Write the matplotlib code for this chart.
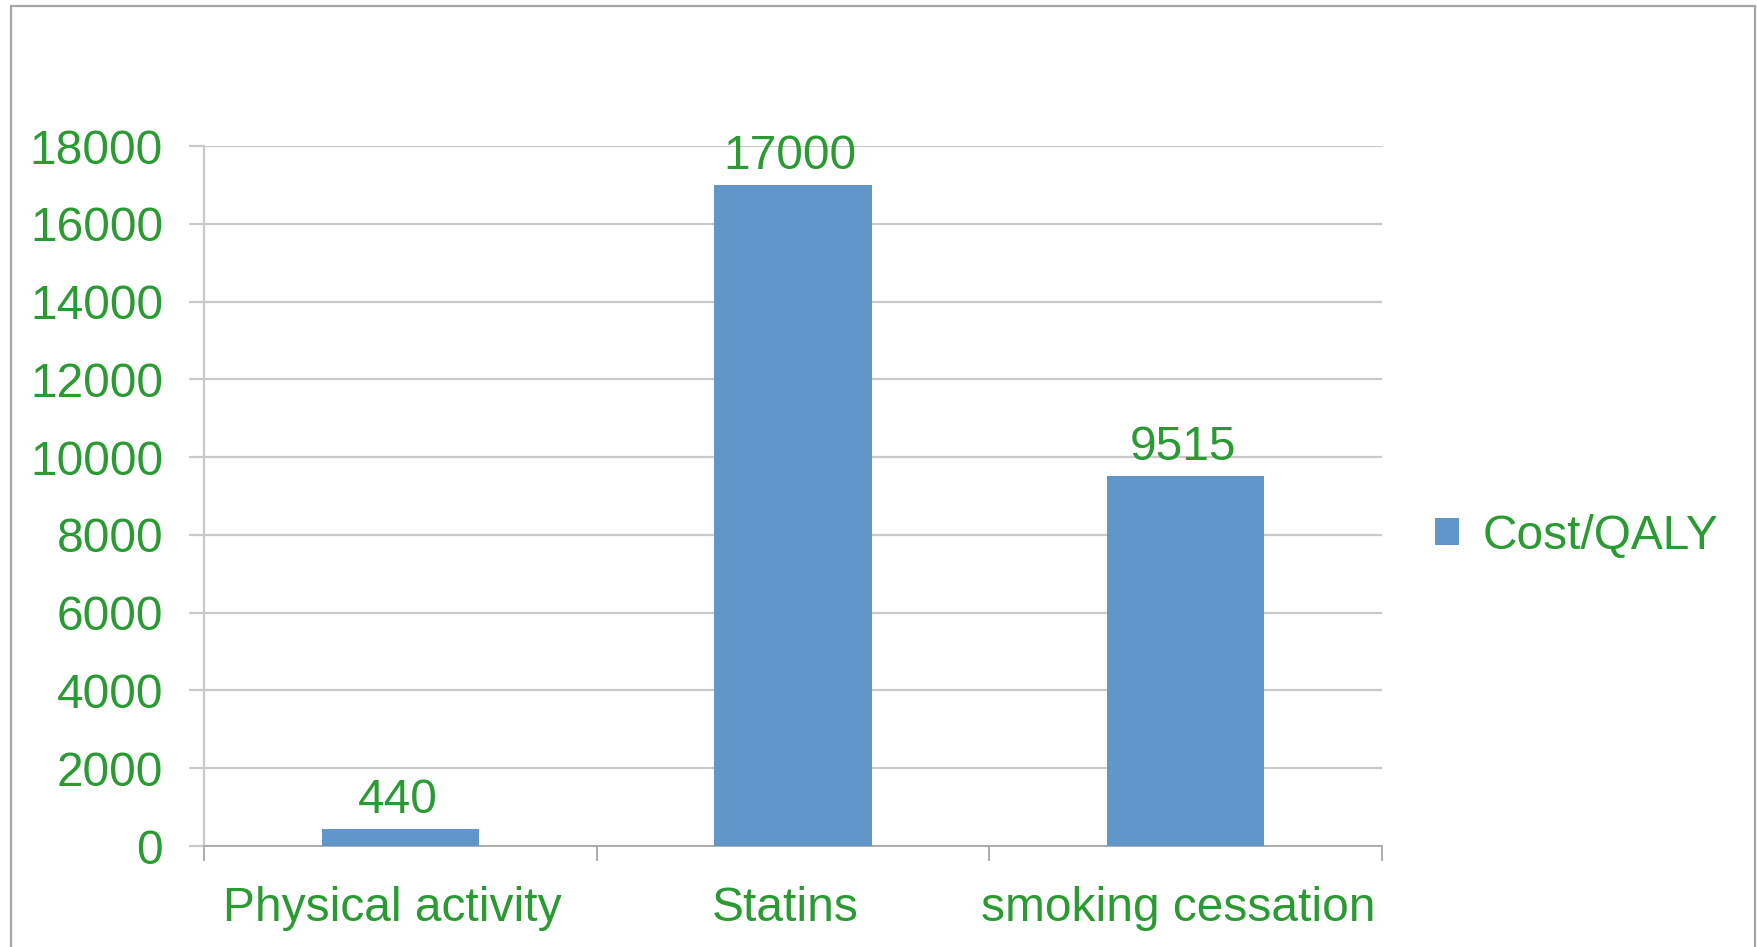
import matplotlib
matplotlib.use("Agg")
import matplotlib.pyplot as plt
from matplotlib.patches import Rectangle
from matplotlib.ticker import FixedLocator, NullFormatter

categories = ["Physical activity", "Statins", "smoking cessation"]
values = [440, 17000, 9515]
series_name = "Cost/QALY"
yticks = [0, 2000, 4000, 6000, 8000, 10000, 12000, 14000, 16000, 18000]

GREEN = "#2A9A32"
BAR = "#6196C9"
GRID = "#C9C9C9"
FS = 34.5

plt.rcParams["font.family"] = ["Liberation Sans", "DejaVu Sans"]

W, H, DPI = 1758, 947, 100
fig = plt.figure(figsize=(W / DPI, H / DPI), dpi=DPI)
fig.patch.set_facecolor("white")

# outer frame
fig.add_artist(Rectangle((11 / W, -0.05), (1755 - 11) / W, 1.05 - 6 / H,
                         transform=fig.transFigure, fill=False,
                         edgecolor="#A6A6A6", linewidth=1.6))

ax = fig.add_axes([204 / W, 101 / H, (1382 - 204) / W, (846 - 146) / H])
x = list(range(len(categories)))
bars = ax.bar(x, values, width=0.4, color=BAR, label=series_name, zorder=3)

ax.set_xlim(-0.5, len(categories) - 0.5)
ax.set_ylim(0, 18000)
ax.set_yticks(yticks)
ax.set_yticklabels([str(t) for t in yticks])
ax.yaxis.grid(True, color=GRID, linewidth=1.6, zorder=0)
ax.set_axisbelow(True)

# major x ticks at category boundaries (no labels), minor at centers (labels)
ax.xaxis.set_major_locator(FixedLocator([i - 0.5 for i in range(len(categories) + 1)]))
ax.xaxis.set_major_formatter(NullFormatter())
ax.xaxis.set_minor_locator(FixedLocator([i - 0.02 for i in x]))
ax.set_xticklabels(categories, minor=True)
ax.tick_params(axis="x", which="major", length=10.5, width=1.3, color="#A8A8A8", direction="out")
ax.tick_params(axis="x", which="minor", length=0, pad=29, labelsize=FS, labelcolor=GREEN)
ax.tick_params(axis="y", length=10.5, width=1.6, color=GRID, pad=19, labelsize=FS, labelcolor=GREEN)

for s in ["top", "right"]:
    ax.spines[s].set_visible(False)
ax.spines["left"].set_color(GRID)
ax.spines["left"].set_linewidth(1.6)
ax.spines["bottom"].set_color("#A8A8A8")
ax.spines["bottom"].set_linewidth(1.3)

for b, v in zip(bars, values):
    ax.annotate(str(v), (b.get_x() + b.get_width() / 2, v), xytext=(-2, 4),
                textcoords="offset points", ha="center", va="bottom",
                fontsize=FS, color=GREEN)

leg = fig.legend(handles=[bars], labels=[series_name], loc="center left",
                 bbox_to_anchor=(1392 / W, 1 - 536 / H), frameon=False,
                 fontsize=FS, handlelength=0.5, handleheight=0.5, handletextpad=0.5,
                 labelcolor=GREEN)

fig.savefig("out.png", dpi=DPI, facecolor="white")
